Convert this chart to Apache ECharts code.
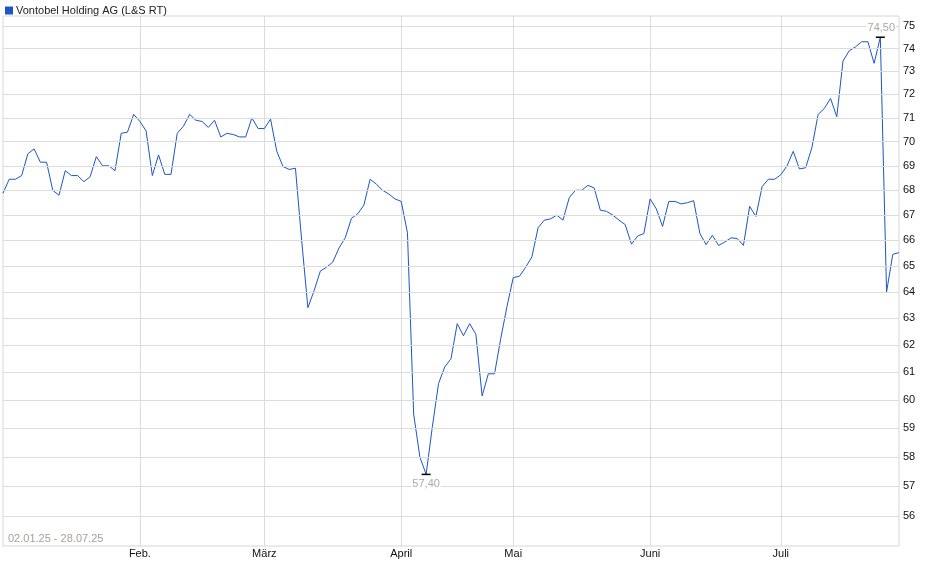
<!DOCTYPE html>
<html>
<head>
<meta charset="utf-8">
<script src="https://cdn.jsdelivr.net/npm/echarts@6/dist/echarts.min.js"></script>
<style>
html,body{margin:0;padding:0;background:#fff;}
#c{width:940px;height:579px;}
</style>
</head>
<body>
<div id="c"></div>
<script>
// trading days per month (2025)
const janDays = [2,3,6,7,8,9,10,13,14,15,16,17,20,21,22,23,24,27,28,29,30,31];
const febDays = [3,4,5,6,7,10,11,12,13,14,17,18,19,20,21,24,25,26,27,28];
const marDays = [1,3,4,5,6,7,10,11,12,13,14,17,18,19,20,21,24,25,26,27,28,31];
const aprDays = [1,2,3,4,7,8,9,10,11,14,15,16,17,22,23,24,25,28];
const mayDays = [1,2,5,6,7,8,9,12,13,14,15,16,19,20,21,22,23,26,27,28,29,30];
const junDays = [2,3,4,5,6,9,10,11,12,13,16,17,18,19,20,23,24,25,26,27,30];
const julDays = [1,2,3,4,7,8,9,10,11,14,15,16,17,18,21,22,23,24,25,28];

const monthLabels = ['Jan.','Feb.','März','April','Mai','Juni','Juli'];
const yTickLabels = [56,57,58,59,60,61,62,63,64,65,66,67,68,69,70,71,72,73,74,75];

const prices = [
  67.88,68.45,68.45,68.6,69.5,69.7,69.15,69.15,68.0,67.8,68.8,68.6,68.6,68.35,68.55,69.38,69.0,69.0,68.8,70.35,70.4,71.15,
  70.85,70.45,68.6,69.45,68.65,68.65,70.35,70.65,71.15,70.9,70.85,70.6,70.9,70.2,70.35,70.3,70.2,70.2,71.0,70.55,
  70.55,70.95,69.6,68.97,68.85,68.9,66.0,63.4,64.05,64.8,64.95,65.15,65.7,66.1,66.87,67.05,67.4,68.45,68.25,68.0,67.85,67.65,
  67.55,66.3,59.5,58.0,57.4,59.05,60.6,61.2,61.5,62.8,62.35,62.8,62.4,60.15,60.95,60.95,62.25,63.45,
  64.55,64.6,64.95,65.35,66.5,66.8,66.85,67.0,66.8,67.7,68.0,68.0,68.2,68.1,67.2,67.15,67.0,66.8,66.62,65.85,66.17,66.27,
  67.65,67.25,66.55,67.55,67.55,67.45,67.5,67.58,66.27,65.83,66.2,65.8,65.93,66.1,66.07,65.8,67.35,66.95,68.15,68.45,68.45,
  68.63,69.0,69.6,68.87,68.92,69.75,71.15,71.4,71.83,71.05,73.45,73.9,74.07,74.3,74.3,73.35,74.5,64.0,65.45,65.52
];

const pad = n => (n < 10 ? '0' + n : '' + n);
const monthDays = [janDays, febDays, marDays, aprDays, mayDays, junDays, julDays];
const categories = [];
const monthOf = [];
monthDays.forEach((days, m) => {
  days.forEach(d => { categories.push(pad(d) + '.' + pad(m + 1) + '.25'); monthOf.push(m); });
});
const isMonthStart = idx => idx > 0 && monthOf[idx] !== monthOf[idx - 1];

const FONT = 'Arial, "Liberation Sans", sans-serif';
const fmt = v => Number(v).toFixed(2).replace('.', ',');

const chart = echarts.init(document.getElementById('c'), null, {renderer: 'canvas'});
chart.setOption({
  animation: false,
  backgroundColor: '#fff',
  textStyle: {fontFamily: FONT},
  legend: {
    left: 0, top: 0,
    itemWidth: 8, itemHeight: 8, itemGap: 5,
    icon: 'rect',
    textStyle: {fontSize: 11, color: '#222', fontFamily: FONT, padding: [0,0,0,-2]},
    data: ['Vontobel Holding AG (L&S RT)']
  },
  grid: {
    left: 3, right: 41, top: 16, bottom: 33,
    show: true, borderColor: '#d6d6d6', borderWidth: 1, backgroundColor: '#fff'
  },
  graphic: [{
    type: 'text', left: 8, top: 533,
    style: {text: categories[0] + ' - ' + categories[categories.length - 1], fill: '#a89e98', font: '11px ' + FONT}
  }],
  xAxis: {
    type: 'category',
    data: categories,
    boundaryGap: false,
    axisLine: {show: false},
    axisTick: {show: false},
    axisLabel: {
      interval: (i) => isMonthStart(i),
      formatter: (v, i) => monthLabels[monthOf[i]],
      color: '#111', fontSize: 11, margin: 2, fontFamily: FONT
    },
    splitLine: {show: true, interval: (i) => isMonthStart(i), lineStyle: {color: '#dcdcdc', width: 1}}
  },
  yAxis: {
    type: 'log',
    position: 'right',
    min: 55.0, max: 75.45,
    axisLine: {show: false},
    axisTick: {show: false},
    axisLabel: {show: false},
    splitLine: {show: false}
  },
  series: [{
    name: 'Vontobel Holding AG (L&S RT)',
    type: 'line',
    data: prices,
    color: '#1d56c2',
    showSymbol: false,
    symbol: 'none',
    lineStyle: {color: '#1d56c2', width: 1},
    z: 3,
    markLine: {
      silent: true,
      symbol: 'none',
      animation: false,
      lineStyle: {color: '#dcdcdc', width: 1, type: 'solid'},
      label: {show: true, position: 'end', formatter: p => String(p.value), color: '#111', fontSize: 11, distance: 4, fontFamily: FONT},
      emphasis: {disabled: true},
      data: yTickLabels.map(v => ({yAxis: v}))
    },
    markPoint: {
      silent: true,
      animation: false,
      symbol: 'rect',
      symbolSize: [9, 1.5],
      itemStyle: {color: '#000'},
      data: [
        {type: 'max', label: {show: true, position: 'top', distance: 3, offset: [1, 0], formatter: p => fmt(p.value), color: '#ada59f', fontSize: 11, backgroundColor: '#fff', padding: [0, 1], fontFamily: FONT}},
        {type: 'min', label: {show: true, position: 'bottom', distance: 3, formatter: p => fmt(p.value), color: '#aaaab2', fontSize: 11, backgroundColor: '#fff', padding: [0, 1], fontFamily: FONT}}
      ]
    }
  }]
});
</script>
</body>
</html>
